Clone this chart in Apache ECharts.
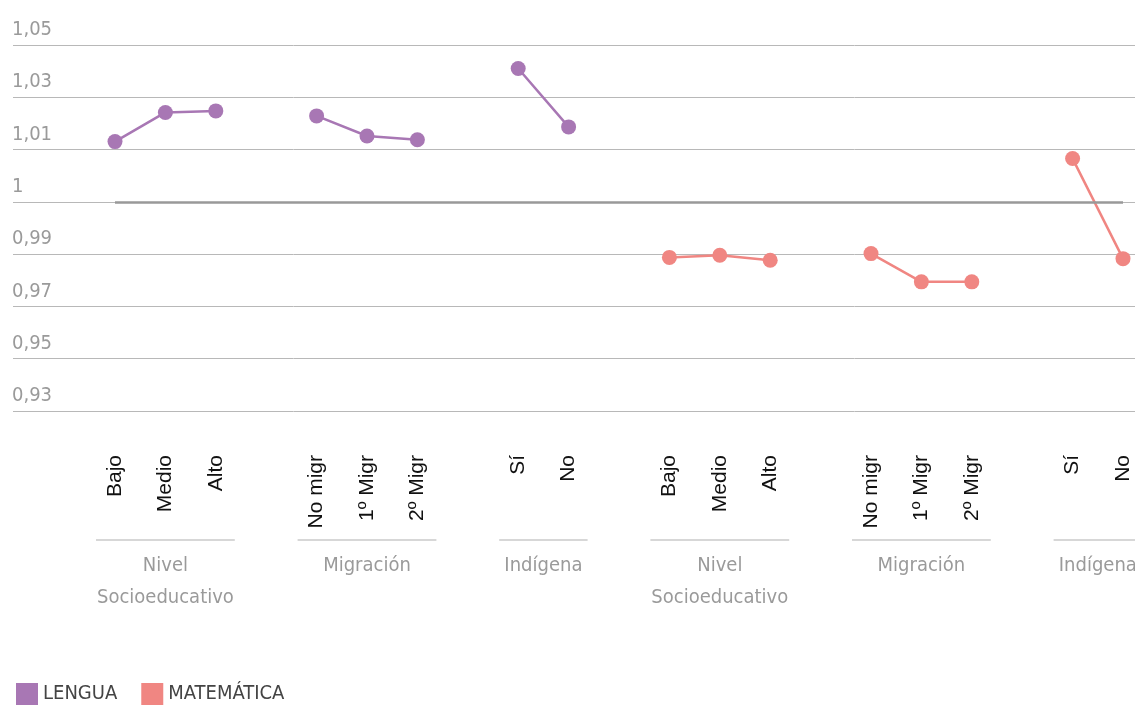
<!DOCTYPE html>
<html>
<head>
<meta charset="utf-8">
<script src="https://cdn.jsdelivr.net/npm/echarts@6/dist/echarts.min.js"></script>
<style>
  html, body { margin: 0; padding: 0; background: #fff; }
  #chart { width: 1135px; height: 707px; }
</style>
</head>
<body>
<div id="chart"></div>
<script>
// slots with gaps between groups
const categories = ['Bajo', 'Medio', 'Alto', '', 'No migr', '1º Migr', '2º Migr', '', 'Sí', 'No', '',
  'Bajo', 'Medio', 'Alto', '', 'No migr', '1º Migr', '2º Migr', '', 'Sí', 'No'];
const lengua = [1.0192, 1.0285, 1.0290, null, 1.0274, 1.0210, 1.0198, null, 1.0425, 1.0239, null,
  null, null, null, null, null, null, null, null, null, null];
const matematica = [null, null, null, null, null, null, null, null, null, null, null,
  0.9823, 0.9830, 0.9814, null, 0.9835, 0.9745, 0.9745, null, 1.0138, 0.9819];
const tickLabels = ['0,93', '0,95', '0,97', '0,99', '1', '1,01', '1,03', '1,05'];
const groupNames = ['Nivel\nSocioeducativo', 'Migración', 'Indígena', 'Nivel\nSocioeducativo', 'Migración', 'Indígena'];
const groupRanges = [[0, 2], [4, 6], [8, 9], [11, 13], [15, 17], [19, 20]];

const yStep = 1 / 60;
const yMin = 56 / 60;
const yMax = 63 / 60;

const narrow = '"Liberation Sans Narrow", "DejaVu Sans Condensed", sans-serif';

let chart = echarts.init(document.getElementById('chart'));
let option = {
  animation: false,
  color: ['#a877b4', '#f08682'],
  grid: [
    { left: 13, right: 0, top: 45, height: 366 },
    { left: 115, right: 12, top: 45, height: 366 }
  ],
  xAxis: [
    { gridIndex: 0, type: 'value', show: false, min: 0, max: 1 },
    {
      gridIndex: 1,
      type: 'category',
      data: categories,
      boundaryGap: false,
      axisLine: { show: false },
      axisTick: { show: false },
      axisLabel: {
        interval: 0,
        rotate: 90,
        margin: 44,
        color: '#111',
        fontSize: 21,
        fontFamily: '"Liberation Sans", Arial, sans-serif'
      }
    }
  ],
  yAxis: [
    {
      gridIndex: 0,
      type: 'value',
      min: yMin,
      max: yMax,
      interval: yStep,
      axisLine: { show: false },
      axisTick: { show: false },
      axisLabel: {
        inside: true,
        margin: -1,
        verticalAlign: 'bottom',
        padding: [0, 0, 5, 0],
        color: '#9a9a9a',
        fontSize: 20,
        fontFamily: narrow,
        formatter: function (v) {
          return tickLabels[Math.round((v - yMin) / yStep)];
        }
      },
      splitLine: { lineStyle: { color: '#b8b8b8', width: 1 } }
    },
    { gridIndex: 1, type: 'value', min: yMin, max: yMax, interval: yStep, show: false, splitLine: { show: false } }
  ],
  legend: {
    left: 16,
    bottom: 2,
    padding: 0,
    icon: 'rect',
    itemWidth: 22,
    itemHeight: 22,
    itemGap: 24,
    textStyle: { color: '#444', fontSize: 20, fontFamily: narrow, padding: [2, 0, 0, 0] },
    data: ['LENGUA', 'MATEMÁTICA']
  },
  series: [
    {
      name: 'LENGUA',
      type: 'line',
      xAxisIndex: 1,
      yAxisIndex: 1,
      data: lengua,
      symbol: 'circle',
      symbolSize: 15,
      lineStyle: { width: 2.5 },
      z: 3,
      markLine: {
        silent: true,
        symbol: ['none', 'none'],
        label: { show: false },
        lineStyle: { color: '#999', width: 2.5, type: 'solid' },
        data: [{ yAxis: 1 }]
      }
    },
    {
      name: 'MATEMÁTICA',
      type: 'line',
      xAxisIndex: 1,
      yAxisIndex: 1,
      data: matematica,
      symbol: 'circle',
      symbolSize: 15,
      lineStyle: { width: 2.5 },
      z: 3
    }
  ]
};
chart.setOption(option);

// group captions under the category labels
let graphics = [];
groupRanges.forEach(function (r, i) {
  let x0 = chart.convertToPixel({ xAxisIndex: 1 }, r[0]);
  let x1 = chart.convertToPixel({ xAxisIndex: 1 }, r[1]);
  let cx = (x0 + x1) / 2;
  let half = (x1 - x0) / 2 + 19;
  graphics.push({
    type: 'line',
    silent: true,
    shape: { x1: cx - half, y1: 540, x2: cx + half, y2: 540 },
    style: { stroke: '#b0b0b0', lineWidth: 1.2 }
  });
  graphics.push({
    type: 'text',
    silent: true,
    x: cx,
    y: 550,
    style: {
      text: groupNames[i],
      align: 'center',
      verticalAlign: 'top',
      fill: '#9a9a9a',
      fontSize: 20,
      lineHeight: 32,
      fontFamily: narrow
    }
  });
});
chart.setOption({ graphic: graphics });
</script>
</body>
</html>
